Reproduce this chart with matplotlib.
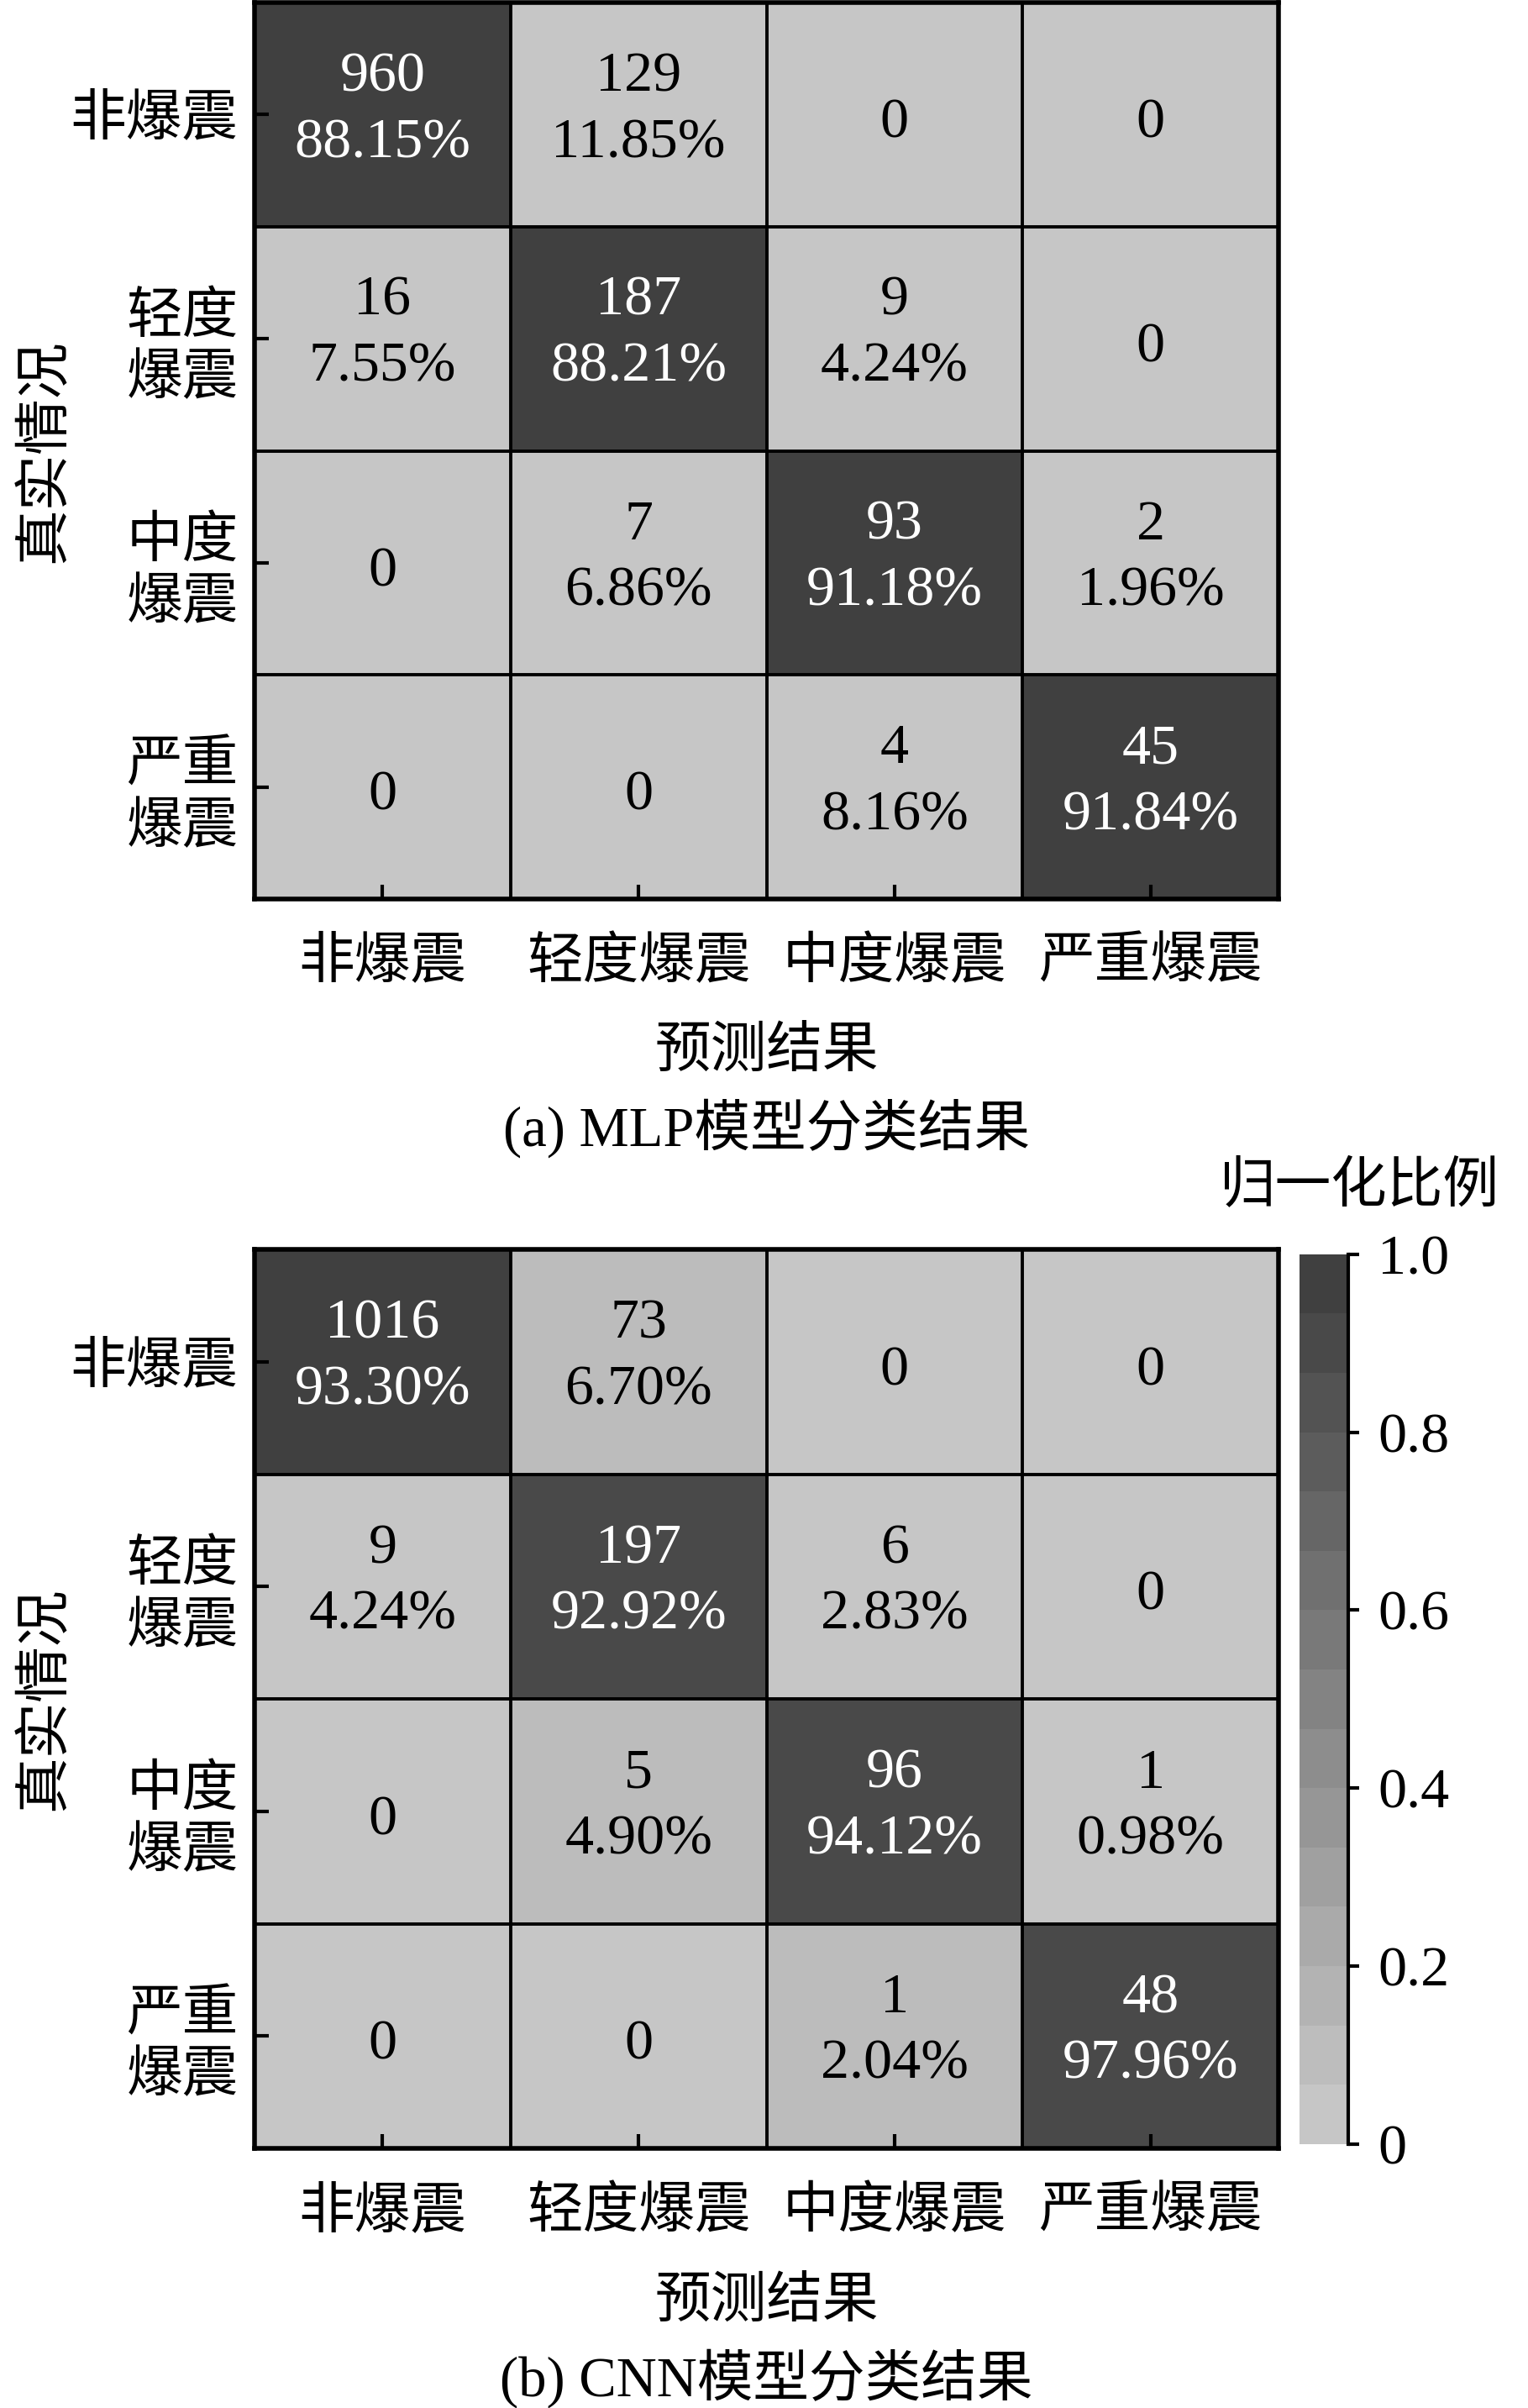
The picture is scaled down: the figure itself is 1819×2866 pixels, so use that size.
import matplotlib
matplotlib.use('Agg')
import matplotlib.pyplot as plt
import numpy as np
from matplotlib.colors import LinearSegmentedColormap, ListedColormap

plt.rcParams['font.family'] = ['Liberation Serif', 'Noto Sans CJK SC']
plt.rcParams['axes.unicode_minus'] = False

# --- data --- #
pred_labels = ['非爆震', '轻度爆震', '中度爆震', '严重爆震']
true_labels = ['非爆震', '轻度\n爆震', '中度\n爆震', '严重\n爆震']

mlp_counts = [[960, 129, 0, 0],
              [16, 187, 9, 0],
              [0, 7, 93, 2],
              [0, 0, 4, 45]]
mlp_pct = [[88.15, 11.85, 0, 0],
           [7.55, 88.21, 4.24, 0],
           [0, 6.86, 91.18, 1.96],
           [0, 0, 8.16, 91.84]]
# cell shade as read against the colour bar
mlp_shade = [[0.97, 0.0, 0.0, 0.0],
             [0.0, 0.97, 0.0, 0.0],
             [0.0, 0.0, 0.97, 0.0],
             [0.0, 0.0, 0.0, 0.97]]

cnn_counts = [[1016, 73, 0, 0],
              [9, 197, 6, 0],
              [0, 5, 96, 1],
              [0, 0, 1, 48]]
cnn_pct = [[93.30, 6.70, 0, 0],
           [4.24, 92.92, 2.83, 0],
           [0, 4.90, 94.12, 0.98],
           [0, 0, 2.04, 97.96]]
cnn_shade = [[0.96, 0.1, 0.0, 0.0],
             [0.0, 0.91, 0.0, 0.0],
             [0.0, 0.1, 0.91, 0.0],
             [0.0, 0.0, 0.1, 0.91]]

captions = ['(a) MLP模型分类结果', '(b) CNN模型分类结果']
cbar_ticks = [0, 0.2, 0.4, 0.6, 0.8, 1.0]
cbar_ticklabels = ['0', '0.2', '0.4', '0.6', '0.8', '1.0']

# 15 grey bands, light to dark
base = LinearSegmentedColormap.from_list('greys', ['#c6c6c6', '#404040'])
cmap = ListedColormap(base(np.linspace(0, 1, 15)))

FS_NUM = 24.5
FS_CJK = 24
fig = plt.figure(figsize=(9.095, 14.33), dpi=200)

ax_a = fig.add_axes([0.1666, 0.6267, 0.6701, 0.3722])
ax_b = fig.add_axes([0.1666, 0.1078, 0.6701, 0.3733])
cax = fig.add_axes([0.8505, 0.1096, 0.0320, 0.3695])


def draw_matrix(ax, counts, pct, shade, caption):
    counts = np.array(counts)
    pct = np.array(pct)
    shade = np.array(shade)
    im = ax.imshow(shade, cmap=cmap, vmin=0, vmax=1, aspect='auto')
    n = counts.shape[0]
    for k in range(n - 1):
        ax.axhline(k + 0.5, color='black', lw=1.4)
        ax.axvline(k + 0.5, color='black', lw=1.4)
    for i in range(n):
        for j in range(n):
            col = 'white' if shade[i, j] > 0.5 else 'black'
            if counts[i, j] == 0:
                ax.text(j, i + 0.04, '0', ha='center', va='center',
                        color=col, fontsize=FS_NUM)
            else:
                txt = f'{counts[i, j]}\n{pct[i, j]:.2f}%'
                ax.text(j, i - 0.02, txt, ha='center', va='center',
                        color=col, fontsize=FS_NUM, linespacing=1.38)
    ax.set_xticks(range(n))
    ax.set_xticklabels(pred_labels, fontsize=FS_CJK)
    ax.set_yticks(range(n))
    ax.set_yticklabels(true_labels, fontsize=FS_CJK, linespacing=1.25)
    ax.tick_params(axis='both', direction='in', length=6, width=1.5)
    ax.tick_params(axis='x', pad=16.5)
    ax.tick_params(axis='y', pad=7)
    for sp in ax.spines.values():
        sp.set_linewidth(2)
    ax.text(-0.204, 0.5, '真实情况', transform=ax.transAxes, rotation=90,
            ha='center', va='center', fontsize=FS_CJK)
    ax.text(0.5, -0.172, '预测结果', transform=ax.transAxes,
            ha='center', va='center', fontsize=FS_CJK)
    ax.text(0.5, -0.256, caption, transform=ax.transAxes,
            ha='center', va='center', fontsize=FS_CJK)
    return im


draw_matrix(ax_a, mlp_counts, mlp_pct, mlp_shade, captions[0])
im = draw_matrix(ax_b, cnn_counts, cnn_pct, cnn_shade, captions[1])

cbar = fig.colorbar(im, cax=cax, ticks=cbar_ticks)
cbar.outline.set_visible(False)
cax.set_yticklabels(cbar_ticklabels, fontsize=FS_NUM)
cax.tick_params(axis='y', direction='out', length=4.5, width=1.5, pad=8)
cax.plot([1, 1], [0, 1], transform=cax.transAxes, color='black', lw=1.5,
         clip_on=False)
fig.text(0.89, 0.5066, '归一化比例', ha='center', va='center', fontsize=FS_CJK)

fig.savefig('out.png', dpi=200)
